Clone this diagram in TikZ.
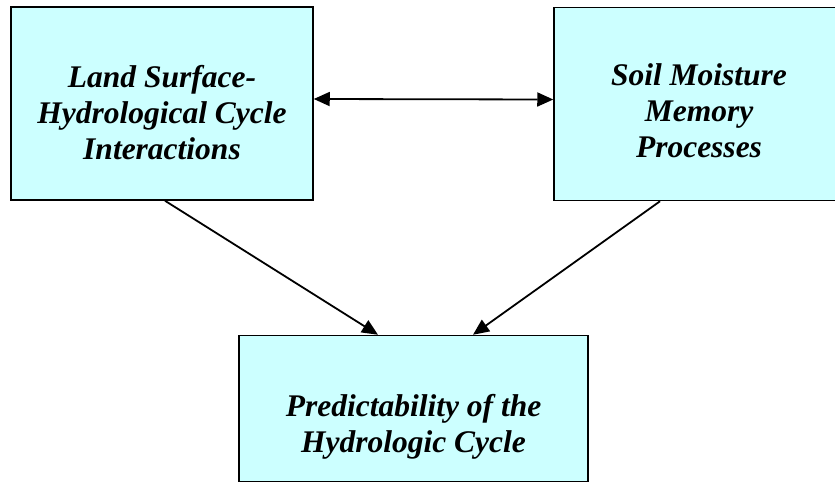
\documentclass[tikz,border=0pt]{standalone}
\usepackage{fontspec}
\setmainfont{Liberation Serif}
\usetikzlibrary{arrows.meta,positioning}

\definecolor{boxcyan}{HTML}{CCFFFF}

\tikzset{
  box/.style={draw=black, line width=1.5pt, fill=boxcyan, align=center, inner sep=0pt,
    font=\fontsize{31.5}{36}\selectfont\bfseries\itshape},
  link/.style={line width=1.8pt, -{Triangle[length=16pt,width=14pt]}},
  dlink/.style={line width=1.8pt, {Triangle[length=16pt,width=14pt]}-{Triangle[length=16pt,width=14pt]}},
}

\begin{document}
\begin{tikzpicture}[x=1pt,y=-1pt]
  \useasboundingbox (0,0) rectangle (835,483);

  % --- Top boxes ---
  \node[box, minimum width=302pt, minimum height=193pt] (lsh) at (162,103.5)
    {\rule{0pt}{40pt}Land Surface-\\Hydrological Cycle\\Interactions};
  \node[box, minimum width=290pt, minimum height=193pt] (smm) at (699,104)
    {\rule{0pt}{36pt}Soil Moisture\\Memory\\Processes};

  % --- Bottom box ---
  \node[box, minimum width=349pt, minimum height=146pt] (pred) at (413.5,408.5)
    {\rule{0pt}{58pt}Predictability of the\\Hydrologic Cycle};

  % --- Connectors ---
  \draw[dlink] ([yshift=4.5pt]lsh.east) -- ([yshift=4.5pt]smm.west);
  \draw[link] ([xshift=3pt]lsh.south) -- ([xshift=-35.5pt]pred.north);
  \draw[link] ([xshift=-39pt]smm.south) -- ([xshift=59.5pt]pred.north);
\end{tikzpicture}
\end{document}
